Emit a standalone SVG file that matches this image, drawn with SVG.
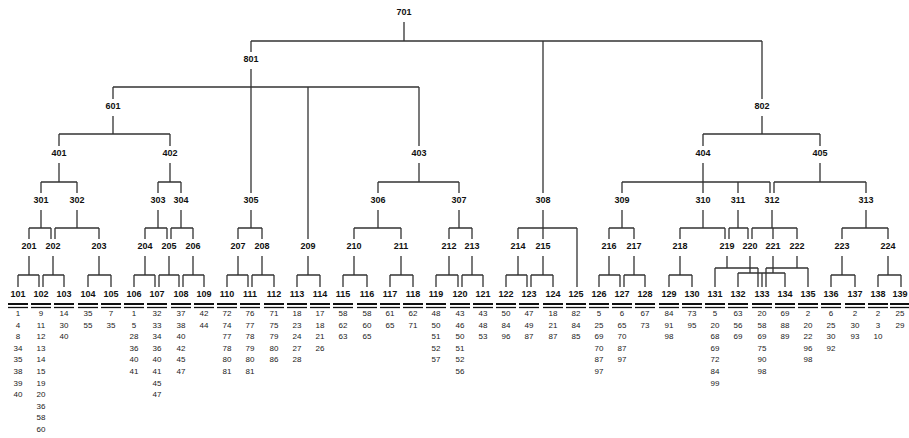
<svg xmlns="http://www.w3.org/2000/svg" xmlns:xlink="http://www.w3.org/1999/xlink" width="909" height="438" viewBox="0 0 909 438">
<style>
.lb{font-family:"Liberation Sans",Arial,sans-serif;font-weight:bold;font-size:9px;text-anchor:middle;fill:#111}
.n{font-family:"Liberation Sans",Arial,sans-serif;font-size:8px;text-anchor:middle;fill:#222}
.c{fill:none;stroke:#333;stroke-width:1.3}
</style>
<defs>
<g id="bar"><line x1="-10" y1="304" x2="10" y2="304" stroke="#111" stroke-width="2"/><line x1="-10" y1="307.5" x2="10" y2="307.5" stroke="#111" stroke-width="1.3"/></g>
</defs>
<rect width="909" height="438" fill="#fff"/>
<g id="connectors" class="c">
<path d="M404,22V41 M251,41H762 M251,41V52 M543,41V193 M762,41V99"/>
<path d="M251,69V87 M113,87H419 M113,87V99 M251,87V193 M308,87V239 M419,87V146"/>
<path d="M113,116V134 M59,134H170 M59,134V146 M170,134V146"/>
<path d="M762,116V134 M703,134H820 M703,134V146 M820,134V146"/>
<path d="M59,163V182 M41,182H77 M41,182V193 M77,182V193"/>
<path d="M170,163V182 M158,182H181 M158,182V193 M181,182V193"/>
<path d="M419,163V182 M378,182H459 M378,182V193 M459,182V193"/>
<path d="M703,163V182 M622,182H770 M622,182V193 M703,182V193 M738,182V193 M770,182V193"/>
<path d="M820,163V182 M774,182H866 M774,182V193 M866,182V193"/>
<path d="M41,210V228 M29,228H51 M29,228V239 M51,228V239"/>
<path d="M77,210V228 M55,228H99 M55,228V239 M99,228V239"/>
<path d="M158,210V228 M145,228H167 M145,228V239 M167,228V239"/>
<path d="M181,210V228 M171,228H193 M171,228V239 M193,228V239"/>
<path d="M251,210V228 M238,228H262 M238,228V239 M262,228V239"/>
<path d="M378,210V228 M354,228H401 M354,228V239 M401,228V239"/>
<path d="M459,210V228 M449,228H472 M449,228V239 M472,228V239"/>
<path d="M543,210V228 M518,228H577 M518,228V239 M543,228V239 M577,228V287"/>
<path d="M622,210V228 M609,228H634 M609,228V239 M634,228V239"/>
<path d="M703,210V228 M680,228H725 M680,228V239 M725,228V239"/>
<path d="M738,210V228 M729,228H748 M729,228V239 M748,228V239"/>
<path d="M772,210V228 M752,228H797 M752,228V239 M773,228V239 M797,228V239"/>
<path d="M866,210V228 M842,228H888 M842,228V239 M888,228V239"/>
<path d="M29,256V275 M18,275H39 M18,275V287 M39,275V287"/>
<path d="M53,256V275 M43,275H64 M43,275V287 M64,275V287"/>
<path d="M99,256V275 M88,275H111 M88,275V287 M111,275V287"/>
<path d="M145,256V275 M134,275H155 M134,275V287 M155,275V287"/>
<path d="M169,256V275 M159,275H179 M159,275V287 M179,275V287"/>
<path d="M193,256V275 M183,275H204 M183,275V287 M204,275V287"/>
<path d="M238,256V275 M227,275H248 M227,275V287 M248,275V287"/>
<path d="M262,256V275 M252,275H274 M252,275V287 M274,275V287"/>
<path d="M308,256V275 M297,275H320 M297,275V287 M320,275V287"/>
<path d="M354,256V275 M343,275H367 M343,275V287 M367,275V287"/>
<path d="M401,256V275 M390,275H413 M390,275V287 M413,275V287"/>
<path d="M449,256V275 M436,275H458 M436,275V287 M458,275V287"/>
<path d="M472,256V275 M462,275H483 M462,275V287 M483,275V287"/>
<path d="M518,256V275 M506,275H527 M506,275V287 M527,275V287"/>
<path d="M543,256V275 M531,275H553 M531,275V287 M553,275V287"/>
<path d="M609,256V275 M599,275H620 M599,275V287 M620,275V287"/>
<path d="M634,256V275 M624,275H645 M624,275V287 M645,275V287"/>
<path d="M680,256V275 M669,275H692 M669,275V287 M692,275V287"/>
<path d="M727,256V268 M715,268H758 M715,268V287 M758,268V287"/>
<path d="M750,256V273 M738,273H762 M738,273V287 M762,273V287"/>
<path d="M773,256V273 M762,273H785 M785,273V287"/>
<path d="M797,256V268 M766,268H808 M766,268V287 M808,268V287"/>
<path d="M842,256V275 M831,275H855 M831,275V287 M855,275V287"/>
<path d="M888,256V275 M878,275H901 M878,275V287 M901,275V287"/>
</g>
<g id="n701"><text class="lb" x="404" y="15">701</text></g>
<g id="n801"><text class="lb" x="251" y="62">801</text></g>
<g id="n601"><text class="lb" x="113" y="109">601</text></g>
<g id="n802"><text class="lb" x="762" y="109">802</text></g>
<g id="n401"><text class="lb" x="59" y="156">401</text></g>
<g id="n402"><text class="lb" x="170" y="156">402</text></g>
<g id="n403"><text class="lb" x="419" y="156">403</text></g>
<g id="n404"><text class="lb" x="703" y="156">404</text></g>
<g id="n405"><text class="lb" x="820" y="156">405</text></g>
<g id="n301"><text class="lb" x="41" y="203">301</text></g>
<g id="n302"><text class="lb" x="77" y="203">302</text></g>
<g id="n303"><text class="lb" x="158" y="203">303</text></g>
<g id="n304"><text class="lb" x="181" y="203">304</text></g>
<g id="n305"><text class="lb" x="251" y="203">305</text></g>
<g id="n306"><text class="lb" x="378" y="203">306</text></g>
<g id="n307"><text class="lb" x="459" y="203">307</text></g>
<g id="n308"><text class="lb" x="543" y="203">308</text></g>
<g id="n309"><text class="lb" x="622" y="203">309</text></g>
<g id="n310"><text class="lb" x="703" y="203">310</text></g>
<g id="n311"><text class="lb" x="738" y="203">311</text></g>
<g id="n312"><text class="lb" x="772" y="203">312</text></g>
<g id="n313"><text class="lb" x="866" y="203">313</text></g>
<g id="n201"><text class="lb" x="29" y="249">201</text></g>
<g id="n202"><text class="lb" x="53" y="249">202</text></g>
<g id="n203"><text class="lb" x="99" y="249">203</text></g>
<g id="n204"><text class="lb" x="145" y="249">204</text></g>
<g id="n205"><text class="lb" x="169" y="249">205</text></g>
<g id="n206"><text class="lb" x="193" y="249">206</text></g>
<g id="n207"><text class="lb" x="238" y="249">207</text></g>
<g id="n208"><text class="lb" x="262" y="249">208</text></g>
<g id="n209"><text class="lb" x="308" y="249">209</text></g>
<g id="n210"><text class="lb" x="354" y="249">210</text></g>
<g id="n211"><text class="lb" x="401" y="249">211</text></g>
<g id="n212"><text class="lb" x="449" y="249">212</text></g>
<g id="n213"><text class="lb" x="472" y="249">213</text></g>
<g id="n214"><text class="lb" x="518" y="249">214</text></g>
<g id="n215"><text class="lb" x="543" y="249">215</text></g>
<g id="n216"><text class="lb" x="609" y="249">216</text></g>
<g id="n217"><text class="lb" x="634" y="249">217</text></g>
<g id="n218"><text class="lb" x="680" y="249">218</text></g>
<g id="n219"><text class="lb" x="727" y="249">219</text></g>
<g id="n220"><text class="lb" x="750" y="249">220</text></g>
<g id="n221"><text class="lb" x="773" y="249">221</text></g>
<g id="n222"><text class="lb" x="797" y="249">222</text></g>
<g id="n223"><text class="lb" x="842" y="249">223</text></g>
<g id="n224"><text class="lb" x="888" y="249">224</text></g>
<g id="n101"><text class="lb" x="18" y="297">101</text><use xlink:href="#bar" x="18"/><text class="n" y="316"><tspan x="18">1</tspan><tspan x="18" dy="11.6">4</tspan><tspan x="18" dy="11.6">8</tspan><tspan x="18" dy="11.6">34</tspan><tspan x="18" dy="11.6">35</tspan><tspan x="18" dy="11.6">38</tspan><tspan x="18" dy="11.6">39</tspan><tspan x="18" dy="11.6">40</tspan></text></g>
<g id="n102"><text class="lb" x="41" y="297">102</text><use xlink:href="#bar" x="41"/><text class="n" y="316"><tspan x="41">9</tspan><tspan x="41" dy="11.6">11</tspan><tspan x="41" dy="11.6">12</tspan><tspan x="41" dy="11.6">13</tspan><tspan x="41" dy="11.6">14</tspan><tspan x="41" dy="11.6">15</tspan><tspan x="41" dy="11.6">19</tspan><tspan x="41" dy="11.6">20</tspan><tspan x="41" dy="11.6">36</tspan><tspan x="41" dy="11.6">58</tspan><tspan x="41" dy="11.6">60</tspan></text></g>
<g id="n103"><text class="lb" x="64" y="297">103</text><use xlink:href="#bar" x="64"/><text class="n" y="316"><tspan x="64">14</tspan><tspan x="64" dy="11.6">30</tspan><tspan x="64" dy="11.6">40</tspan></text></g>
<g id="n104"><text class="lb" x="88" y="297">104</text><use xlink:href="#bar" x="88"/><text class="n" y="316"><tspan x="88">35</tspan><tspan x="88" dy="11.6">55</tspan></text></g>
<g id="n105"><text class="lb" x="111" y="297">105</text><use xlink:href="#bar" x="111"/><text class="n" y="316"><tspan x="111">7</tspan><tspan x="111" dy="11.6">35</tspan></text></g>
<g id="n106"><text class="lb" x="134" y="297">106</text><use xlink:href="#bar" x="134"/><text class="n" y="316"><tspan x="134">1</tspan><tspan x="134" dy="11.6">5</tspan><tspan x="134" dy="11.6">28</tspan><tspan x="134" dy="11.6">36</tspan><tspan x="134" dy="11.6">40</tspan><tspan x="134" dy="11.6">41</tspan></text></g>
<g id="n107"><text class="lb" x="157" y="297">107</text><use xlink:href="#bar" x="157"/><text class="n" y="316"><tspan x="157">32</tspan><tspan x="157" dy="11.6">33</tspan><tspan x="157" dy="11.6">34</tspan><tspan x="157" dy="11.6">36</tspan><tspan x="157" dy="11.6">40</tspan><tspan x="157" dy="11.6">41</tspan><tspan x="157" dy="11.6">45</tspan><tspan x="157" dy="11.6">47</tspan></text></g>
<g id="n108"><text class="lb" x="181" y="297">108</text><use xlink:href="#bar" x="181"/><text class="n" y="316"><tspan x="181">37</tspan><tspan x="181" dy="11.6">38</tspan><tspan x="181" dy="11.6">40</tspan><tspan x="181" dy="11.6">42</tspan><tspan x="181" dy="11.6">45</tspan><tspan x="181" dy="11.6">47</tspan></text></g>
<g id="n109"><text class="lb" x="204" y="297">109</text><use xlink:href="#bar" x="204"/><text class="n" y="316"><tspan x="204">42</tspan><tspan x="204" dy="11.6">44</tspan></text></g>
<g id="n110"><text class="lb" x="227" y="297">110</text><use xlink:href="#bar" x="227"/><text class="n" y="316"><tspan x="227">72</tspan><tspan x="227" dy="11.6">74</tspan><tspan x="227" dy="11.6">77</tspan><tspan x="227" dy="11.6">78</tspan><tspan x="227" dy="11.6">80</tspan><tspan x="227" dy="11.6">81</tspan></text></g>
<g id="n111"><text class="lb" x="250" y="297">111</text><use xlink:href="#bar" x="250"/><text class="n" y="316"><tspan x="250">76</tspan><tspan x="250" dy="11.6">77</tspan><tspan x="250" dy="11.6">78</tspan><tspan x="250" dy="11.6">79</tspan><tspan x="250" dy="11.6">80</tspan><tspan x="250" dy="11.6">81</tspan></text></g>
<g id="n112"><text class="lb" x="274" y="297">112</text><use xlink:href="#bar" x="274"/><text class="n" y="316"><tspan x="274">71</tspan><tspan x="274" dy="11.6">75</tspan><tspan x="274" dy="11.6">79</tspan><tspan x="274" dy="11.6">80</tspan><tspan x="274" dy="11.6">86</tspan></text></g>
<g id="n113"><text class="lb" x="297" y="297">113</text><use xlink:href="#bar" x="297"/><text class="n" y="316"><tspan x="297">18</tspan><tspan x="297" dy="11.6">23</tspan><tspan x="297" dy="11.6">24</tspan><tspan x="297" dy="11.6">27</tspan><tspan x="297" dy="11.6">28</tspan></text></g>
<g id="n114"><text class="lb" x="320" y="297">114</text><use xlink:href="#bar" x="320"/><text class="n" y="316"><tspan x="320">17</tspan><tspan x="320" dy="11.6">18</tspan><tspan x="320" dy="11.6">21</tspan><tspan x="320" dy="11.6">26</tspan></text></g>
<g id="n115"><text class="lb" x="343" y="297">115</text><use xlink:href="#bar" x="343"/><text class="n" y="316"><tspan x="343">58</tspan><tspan x="343" dy="11.6">62</tspan><tspan x="343" dy="11.6">63</tspan></text></g>
<g id="n116"><text class="lb" x="367" y="297">116</text><use xlink:href="#bar" x="367"/><text class="n" y="316"><tspan x="367">58</tspan><tspan x="367" dy="11.6">60</tspan><tspan x="367" dy="11.6">65</tspan></text></g>
<g id="n117"><text class="lb" x="390" y="297">117</text><use xlink:href="#bar" x="390"/><text class="n" y="316"><tspan x="390">61</tspan><tspan x="390" dy="11.6">65</tspan></text></g>
<g id="n118"><text class="lb" x="413" y="297">118</text><use xlink:href="#bar" x="413"/><text class="n" y="316"><tspan x="413">62</tspan><tspan x="413" dy="11.6">71</tspan></text></g>
<g id="n119"><text class="lb" x="436" y="297">119</text><use xlink:href="#bar" x="436"/><text class="n" y="316"><tspan x="436">48</tspan><tspan x="436" dy="11.6">50</tspan><tspan x="436" dy="11.6">51</tspan><tspan x="436" dy="11.6">52</tspan><tspan x="436" dy="11.6">57</tspan></text></g>
<g id="n120"><text class="lb" x="460" y="297">120</text><use xlink:href="#bar" x="460"/><text class="n" y="316"><tspan x="460">43</tspan><tspan x="460" dy="11.6">46</tspan><tspan x="460" dy="11.6">50</tspan><tspan x="460" dy="11.6">51</tspan><tspan x="460" dy="11.6">52</tspan><tspan x="460" dy="11.6">56</tspan></text></g>
<g id="n121"><text class="lb" x="483" y="297">121</text><use xlink:href="#bar" x="483"/><text class="n" y="316"><tspan x="483">43</tspan><tspan x="483" dy="11.6">48</tspan><tspan x="483" dy="11.6">53</tspan></text></g>
<g id="n122"><text class="lb" x="506" y="297">122</text><use xlink:href="#bar" x="506"/><text class="n" y="316"><tspan x="506">50</tspan><tspan x="506" dy="11.6">84</tspan><tspan x="506" dy="11.6">96</tspan></text></g>
<g id="n123"><text class="lb" x="529" y="297">123</text><use xlink:href="#bar" x="529"/><text class="n" y="316"><tspan x="529">47</tspan><tspan x="529" dy="11.6">49</tspan><tspan x="529" dy="11.6">87</tspan></text></g>
<g id="n124"><text class="lb" x="553" y="297">124</text><use xlink:href="#bar" x="553"/><text class="n" y="316"><tspan x="553">18</tspan><tspan x="553" dy="11.6">21</tspan><tspan x="553" dy="11.6">87</tspan></text></g>
<g id="n125"><text class="lb" x="576" y="297">125</text><use xlink:href="#bar" x="576"/><text class="n" y="316"><tspan x="576">82</tspan><tspan x="576" dy="11.6">84</tspan><tspan x="576" dy="11.6">85</tspan></text></g>
<g id="n126"><text class="lb" x="599" y="297">126</text><use xlink:href="#bar" x="599"/><text class="n" y="316"><tspan x="599">5</tspan><tspan x="599" dy="11.6">25</tspan><tspan x="599" dy="11.6">69</tspan><tspan x="599" dy="11.6">70</tspan><tspan x="599" dy="11.6">87</tspan><tspan x="599" dy="11.6">97</tspan></text></g>
<g id="n127"><text class="lb" x="622" y="297">127</text><use xlink:href="#bar" x="622"/><text class="n" y="316"><tspan x="622">6</tspan><tspan x="622" dy="11.6">65</tspan><tspan x="622" dy="11.6">70</tspan><tspan x="622" dy="11.6">87</tspan><tspan x="622" dy="11.6">97</tspan></text></g>
<g id="n128"><text class="lb" x="645" y="297">128</text><use xlink:href="#bar" x="645"/><text class="n" y="316"><tspan x="645">67</tspan><tspan x="645" dy="11.6">73</tspan></text></g>
<g id="n129"><text class="lb" x="669" y="297">129</text><use xlink:href="#bar" x="669"/><text class="n" y="316"><tspan x="669">84</tspan><tspan x="669" dy="11.6">91</tspan><tspan x="669" dy="11.6">98</tspan></text></g>
<g id="n130"><text class="lb" x="692" y="297">130</text><use xlink:href="#bar" x="692"/><text class="n" y="316"><tspan x="692">73</tspan><tspan x="692" dy="11.6">95</tspan></text></g>
<g id="n131"><text class="lb" x="715" y="297">131</text><use xlink:href="#bar" x="715"/><text class="n" y="316"><tspan x="715">5</tspan><tspan x="715" dy="11.6">20</tspan><tspan x="715" dy="11.6">68</tspan><tspan x="715" dy="11.6">69</tspan><tspan x="715" dy="11.6">72</tspan><tspan x="715" dy="11.6">84</tspan><tspan x="715" dy="11.6">99</tspan></text></g>
<g id="n132"><text class="lb" x="738" y="297">132</text><use xlink:href="#bar" x="738"/><text class="n" y="316"><tspan x="738">63</tspan><tspan x="738" dy="11.6">56</tspan><tspan x="738" dy="11.6">69</tspan></text></g>
<g id="n133"><text class="lb" x="762" y="297">133</text><use xlink:href="#bar" x="762"/><text class="n" y="316"><tspan x="762">20</tspan><tspan x="762" dy="11.6">58</tspan><tspan x="762" dy="11.6">69</tspan><tspan x="762" dy="11.6">75</tspan><tspan x="762" dy="11.6">90</tspan><tspan x="762" dy="11.6">98</tspan></text></g>
<g id="n134"><text class="lb" x="785" y="297">134</text><use xlink:href="#bar" x="785"/><text class="n" y="316"><tspan x="785">69</tspan><tspan x="785" dy="11.6">88</tspan><tspan x="785" dy="11.6">89</tspan></text></g>
<g id="n135"><text class="lb" x="808" y="297">135</text><use xlink:href="#bar" x="808"/><text class="n" y="316"><tspan x="808">2</tspan><tspan x="808" dy="11.6">20</tspan><tspan x="808" dy="11.6">22</tspan><tspan x="808" dy="11.6">96</tspan><tspan x="808" dy="11.6">98</tspan></text></g>
<g id="n136"><text class="lb" x="831" y="297">136</text><use xlink:href="#bar" x="831"/><text class="n" y="316"><tspan x="831">6</tspan><tspan x="831" dy="11.6">25</tspan><tspan x="831" dy="11.6">30</tspan><tspan x="831" dy="11.6">92</tspan></text></g>
<g id="n137"><text class="lb" x="855" y="297">137</text><use xlink:href="#bar" x="855"/><text class="n" y="316"><tspan x="855">2</tspan><tspan x="855" dy="11.6">30</tspan><tspan x="855" dy="11.6">93</tspan></text></g>
<g id="n138"><text class="lb" x="878" y="297">138</text><use xlink:href="#bar" x="878"/><text class="n" y="316"><tspan x="878">2</tspan><tspan x="878" dy="11.6">3</tspan><tspan x="878" dy="11.6">10</tspan></text></g>
<g id="n139"><text class="lb" x="900" y="297">139</text><use xlink:href="#bar" x="900"/><text class="n" y="316"><tspan x="900">25</tspan><tspan x="900" dy="11.6">29</tspan></text></g>
</svg>
